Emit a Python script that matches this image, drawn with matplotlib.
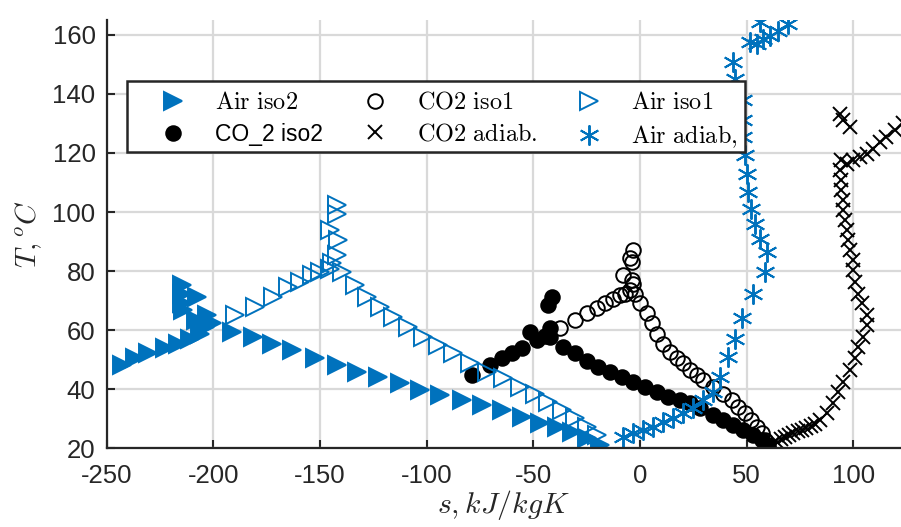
import numpy as np
import matplotlib
matplotlib.use("Agg")
import matplotlib.pyplot as plt
from matplotlib.patches import Rectangle

plt.rcParams['mathtext.fontset'] = 'cm'
plt.rcParams['axes.unicode_minus'] = False
plt.rcParams['font.family'] = ['Liberation Sans', 'DejaVu Sans']

# ------------------------------------------------------------
# dados (s em kJ/kgK, T em oC)
# ------------------------------------------------------------
air_iso2_s = [-243, -236.7, -230.5, -222.7, -216.4, -211, -206.3, -203.1, -200.8, -208, -204,
              -214.8, -214.8, -207.8, -214.8, -214.1, -191.4, -181.3, -172.7, -163.3, -152.4,
              -142.2, -132.8, -122.7, -112.5, -103.1, -93.8, -83.6, -74.2, -64.8, -55.5, -46.9,
              -39.1, -32.0, -25.0, -18.8]
air_iso2_T = [48.2, 50.5, 52.2, 53.9, 55.5, 57.2, 58.9, 65.1, 62.3, 63.5, 61,
              75.2, 72.4, 71.3, 69.1, 66.8, 59.5, 57.8, 55.5, 53.3, 50.5,
              48.2, 45.9, 44.3, 42.0, 39.8, 38.1, 36.4, 34.7, 33.0, 30.7, 28.5,
              27.4, 25.7, 23.4, 21.2]

co2_iso2_s = [-78.5, -70.3, -64.8, -59.8, -55.5, -51.6, -48.4, -44.5, -42.2, -43.0, -41.4,
              -42.2, -36.0, -30.5, -25.0, -19.6, -14.1, -8.6, -3.1, 2.3, 7.8, 13.3, 18.7,
              23.4, 28.1, 34.4, 39.0, 43.7, 48.4, 53.1, 57.0, 59.4, 60.1]
co2_iso2_T = [44.8, 48.2, 50.5, 52.2, 53.9, 59.5, 56.7, 58.0, 60.6, 68.5, 71.3,
              57.8, 54.4, 52.2, 49.6, 47.6, 46.0, 44.3, 42.6, 40.9, 39.2, 37.5, 36.4,
              35.3, 33.6, 31.3, 29.6, 27.9, 26.3, 24.6, 22.9, 21.2, 20.1]

co2_iso1_s = [-37.5, -30.5, -25.0, -20.3, -16.4, -12.5, -9.4, -7.0, -4.7, -7.8, -3.9, -3.1,
              -3.9, -4.7, -3.1, -2.3, 0, 3.1, 5.5, 7.8, 10.9, 14.1, 17.2, 20.3, 23.4, 26.6,
              29.7, 34.4, 39.0, 43.0, 46.1, 49.2, 52.3, 54.7, 57.0, 58.6, 60.1]
co2_iso1_T = [60.6, 63.4, 65.7, 67.4, 69.1, 70.7, 71.9, 72.4, 73.5, 78.6, 76.9, 75.8,
              83.1, 84.3, 87.1, 72.4, 69.1, 65.7, 62.3, 58.9, 55.5, 52.7, 50.5, 48.8, 46.5, 44.8,
              43.1, 40.9, 38.6, 36.4, 34.1, 31.9, 29.6, 27.4, 25.1, 22.9, 21.2]

co2_adiab_s = [62, 64, 66, 68, 70, 72, 74, 76, 78, 80, 82, 84.4, 87.5, 90.6, 92.9, 95.3,
               98.4, 100.7, 102.3, 104.7, 106.3, 106.3, 103.9, 102.3, 100.7, 100.0, 100.0,
               98.4, 97.7, 96.9, 96.1, 95.3, 95.3, 94.5, 94.5, 93.8, 94.5, 93.8, 95.3, 98.4,
               96.9, 100.0, 103.1, 106.3, 109.4, 112.5, 115.6, 119.5, 123.5]
co2_adiab_T = [21.5, 22.5, 23.2, 24.0, 24.6, 25.2, 25.8, 26.3, 26.9, 27.5, 28.2, 29.6, 31.9,
               35.3, 39.2, 42.6, 46.5, 50.5, 54.4, 57.8, 61.7, 65.1, 69.1, 72.4, 76.4, 80.3,
               83.7, 87.1, 90.4, 93.8, 97.2, 100.6, 104.0, 107.3, 110.7, 114.1, 117.5, 133.2,
               131.0, 128.7, 116.3, 117.5, 118.6, 119.7, 121.4, 123.6, 125.3, 127.6, 130.0]

air_iso1_s = [-189.8, -180.5, -171.9, -164.9, -159.4, -153.9, -150.0, -145.3, -142.2, -142.2,
              -145.3, -141.4, -142.2, -144.5, -139.8, -133.6, -128.1, -121.9, -115.7, -108.6,
              -101.6, -94.6, -87.5, -79.7, -71.9, -64.1, -56.3, -49.2, -43.0, -36.7, -30.5,
              -25.0, -20.3]
air_iso1_T = [65.1, 67.9, 71.3, 74.7, 76.4, 78.6, 79.7, 80.9, 102.3, 99.5,
              93.8, 90.4, 85.4, 82.6, 79.7, 75.2, 71.3, 67.9, 64.5, 61.1,
              57.8, 55.0, 52.2, 48.8, 45.9, 43.7, 40.9, 38.6, 35.8, 33.0, 30.2,
              27.4, 24.6]

air_adiab_s = [-7.8, -3.1, 1.6, 6.3, 10.9, 15.6, 20.3, 25.0, 29.7, 34.4, 37.5, 41.4, 44.5,
               47.7, 53.1, 58.6, 59.4, 56.3, 53.9, 52.3, 50.8, 50.0, 49.2, 48.4, 48.4, 48.4,
               44.9, 44.5, 43.7, 51.6, 54.7, 56.3, 57.8, 60.9, 64.8, 69.5]
air_adiab_T = [24.0, 25.1, 26.3, 27.4, 29.1, 30.2, 31.9, 33.6, 36.4, 39.2, 44.3, 51.0, 57.2,
               64.0, 72.4, 79.7, 86.5, 91.0, 96.1, 101.1, 106.8, 113.0, 119.2, 125.3, 131.0, 137.8,
               140.4, 145.1, 150.7, 157.4, 156.9, 164.2, 158.6, 159.7, 161.4, 163.6]

azul = '#0072BD'
cinza = '#262626'

fig = plt.figure(figsize=(9.01, 5.27), dpi=100)
ax = fig.add_axes([0.1184, 0.149, 0.8816, 0.8131])

mew = 1.4
ax.plot(air_iso2_s, air_iso2_T, '>', color=azul, ms=12.5, mew=mew, ls='none',
        label=r'$\mathrm{Air\ iso2}$')
ax.plot(co2_iso2_s, co2_iso2_T, 'o', color='k', ms=10.5, mew=mew, ls='none', label='CO_2 iso2')
ax.plot(co2_iso1_s, co2_iso1_T, 'o', mfc='none', mec='k', ms=10.5, mew=mew, ls='none',
        label=r'$\mathrm{CO2\ iso1}$')
ax.plot(co2_adiab_s, co2_adiab_T, 'x', color='k', ms=10.5, mew=mew, ls='none',
        label=r'$\mathrm{CO2\ adiab.}$')
ax.plot(air_iso1_s, air_iso1_T, '>', mfc='none', mec=azul, ms=12.5, mew=mew, ls='none',
        label=r'$\mathrm{Air\ iso1}$')
ax.plot(air_adiab_s, air_adiab_T, marker=(6, 2, 0), color=azul, ms=14.5, mew=mew, ls='none',
        label=r'$\mathrm{Air\ adiab,}$')

ax.set_xlim(-250, 122.4)
ax.set_ylim(20, 165)
ax.set_xticks(np.arange(-250, 101, 50))
ax.set_yticks(np.arange(20, 161, 20))
ax.grid(True, color='#d9d9d9', lw=1.6)
ax.set_axisbelow(True)

for lado in ['top', 'right']:
    ax.spines[lado].set_visible(False)
for lado in ['left', 'bottom']:
    ax.spines[lado].set_color(cinza)
    ax.spines[lado].set_linewidth(1.6)
ax.tick_params(direction='in', length=6, width=1.5, color=cinza, labelcolor=cinza,
               labelsize=18.5)
ax.tick_params(axis='x', pad=11)
ax.tick_params(axis='y', pad=8)

ax.set_xlabel(r'$s, kJ/kgK$', fontsize=21.5, color=cinza, labelpad=0)
ax.set_ylabel(r'$T,^oC$', fontsize=21, color=cinza, labelpad=6)

# moldura da legenda desenhada a parte (MATLAB deixa espaco assimetrico)
x0 = (127 - 106.7) / 794.3
x1 = (745 - 106.7) / 794.3
y1 = (448.5 - 81) / 428.5
y0 = (448.5 - 152) / 428.5
ax.add_patch(Rectangle((x0, y0), x1 - x0, y1 - y0, transform=ax.transAxes,
                       facecolor='white', edgecolor=cinza, lw=1.8, zorder=4))

leg = ax.legend(ncol=3, loc='upper left', bbox_to_anchor=((162.6 - 106.7) / 794.3, 0.832),
                frameon=False, fontsize=17, borderpad=0, borderaxespad=0,
                handlelength=0.9, handletextpad=1.33, columnspacing=1.75, labelspacing=0.4)
leg.set_zorder(5)
for t in leg.get_texts():
    if t.get_text() == 'CO_2 iso2':
        t.set_fontsize(16.5)
    else:
        t.set_fontsize(17.5)

fig.savefig('out.png', dpi=100)
